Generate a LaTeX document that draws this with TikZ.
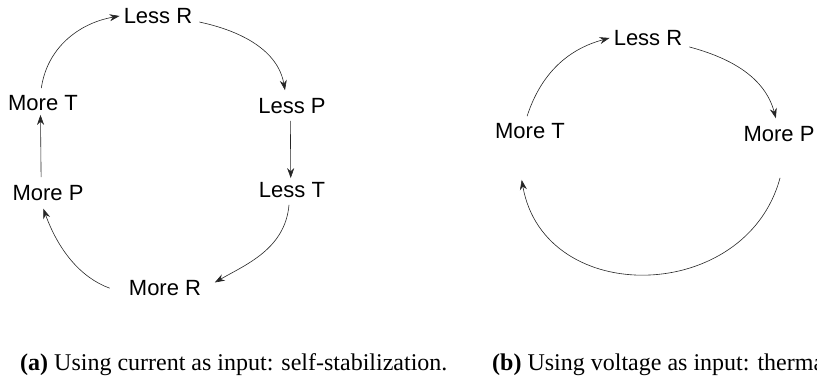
\documentclass[tikz,border=0pt]{standalone}
\usepackage{fontspec}
\setmainfont{Liberation Serif}
\newfontfamily\loopfont{Liberation Sans}
\usetikzlibrary{arrows.meta}
\tikzset{
	>={Stealth[length=10pt,width=7pt]}, % arrow heads
	quantity/.style={font=\loopfont\fontsize{22}{26}\selectfont, inner sep=4pt}, % the loop labels
	subcaption/.style={font=\fontsize{24}{28}\selectfont, anchor=base west, inner sep=0pt},
	link/.style={->, line width=0.6pt, draw=black!85}, % the arrows of the loops
}

\begin{document}
\begin{tikzpicture}[x=1pt,y=-1pt]
	\useasboundingbox (0,0) rectangle (817,380);

	% (a) self-stabilization
	\node[quantity] (lessR) at (158,16) {Less R};
	\node[quantity] (lessP) at (292,106) {Less P};
	\node[quantity] (lessT) at (292,190) {Less T};
	\node[quantity] (moreR) at (165,288) {More R};
	\node[quantity] (moreP) at (48,193) {More P};
	\node[quantity] (moreT) at (43,103) {More T};

	\path
	(moreT.100) edge[link,out=82,in=190,shorten <=3pt] (lessR.west)
	(lessR.-8) edge[link,out=-12,in=100,shorten <=3pt,shorten >=4pt] (lessP.118)
	(lessP.262) edge[link,shorten <=3pt] (lessT.96)
	(lessT.-103) edge[link,out=-95,in=30,shorten <=3pt,shorten >=11pt] (moreR.east)
	(moreR.188) edge[link,out=160,in=-70,shorten <=16pt,shorten >=4pt] (moreP.-117)
	(moreP.120) edge[link,shorten <=4pt] (moreT.-102);

	% (b) thermal runaway
	\node[quantity] (lessR2) at (648,38) {Less R};
	\node[quantity] (moreP2) at (779,134) {More P};
	\node[quantity] (moreT2) at (530,131) {More T};

	\path
	(moreT2.108) edge[link,out=72,in=195,shorten <=3pt] (lessR2.west)
	(lessR2.-12) edge[link,out=-15,in=105,shorten <=3pt,shorten >=4pt] (moreP2.100)
	([yshift=-32pt]moreP2.-85) edge[link,out=-105,in=-80,looseness=1.29] ([yshift=-37pt]moreT2.-125);

	% sub-captions
	\node[subcaption] (capA) at (20,370) {\textbf{(a)} Using current as input: self-stabilization.};
	\node[subcaption] (capB) at (492,370) {\textbf{(b)} Using voltage as input: therma};
\end{tikzpicture}
\end{document}
